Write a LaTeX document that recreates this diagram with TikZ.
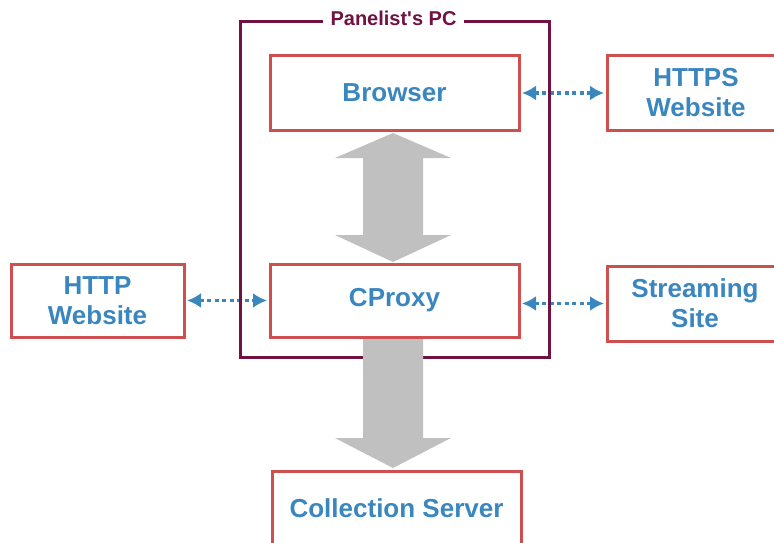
\documentclass[tikz,border=0pt]{standalone}
\usepackage{fontspec}
\setmainfont{Liberation Sans}[Ligatures=TeXOff]
\usetikzlibrary{arrows.meta,backgrounds}
\definecolor{boxred}{RGB}{206,80,78}
\definecolor{pcmaroon}{RGB}{112,18,66}
\definecolor{txtblue}{RGB}{58,134,190}
\definecolor{flowgray}{RGB}{192,192,192}
\tikzset{
  unit/.style={draw=boxred, line width=3pt, fill=white, text=txtblue,
    font=\fontsize{26}{30}\selectfont\bfseries, align=center, inner sep=0pt},
  link/.style={draw=txtblue, line width=3.5pt, dash pattern=on 4pt off 3.5pt,
    {Latex[length=14pt,width=15pt]}-{Latex[length=14pt,width=15pt]}, shorten <=1.5pt, shorten >=1.5pt},
  flow/.style={fill=flowgray, draw=none}
}
\begin{document}
\begin{tikzpicture}[x=1pt,y=-1pt]
\useasboundingbox (0,0) rectangle (774,543);
\clip (0,0) rectangle (774,543);
% Panelist's PC frame
\draw[pcmaroon, line width=3pt] (240,22) rectangle (549,357);
\node[fill=white, text=pcmaroon, font=\fontsize{20}{24}\selectfont\bfseries,
  inner xsep=8pt, inner ysep=2pt] (pc) at (393.5,18) {Panelist's PC};
% data flow arrows
\fill[flow] (393,133) -- (451,158) -- (423,158) -- (423,235) -- (451,235)
  -- (393,262) -- (335,235) -- (363,235) -- (363,158) -- (335,158) -- cycle;
\fill[flow] (363,338) -- (423,338) -- (423,438) -- (451,438) -- (393,468)
  -- (335,438) -- (363,438) -- cycle;
% components
\node[unit, minimum width=249pt, minimum height=74pt] (browser) at (394.5,93) {Browser};
\node[unit, minimum width=249pt, minimum height=73pt] (cproxy) at (394.5,300.5) {CProxy};
\node[unit, minimum width=249pt, minimum height=74pt] (collect) at (396.5,508) {Collection Server};
\node[unit, minimum width=173pt, minimum height=73pt] (http) at (97.5,300.5) {HTTP\\Website};
\node[unit, minimum width=178pt, minimum height=74pt] (https) at (696,93) {HTTPS\\Website};
\node[unit, minimum width=176pt, minimum height=75pt] (stream) at (695,303.5) {Streaming\\Site};
% connections, kept beneath the frame
\begin{scope}[on background layer]
\draw[link] (browser.east) -- (https.west);
\draw[link] (http.east) -- (cproxy.west);
\draw[link] (cproxy.east |- stream.west) -- (stream.west);
\end{scope}
\end{tikzpicture}
\end{document}
